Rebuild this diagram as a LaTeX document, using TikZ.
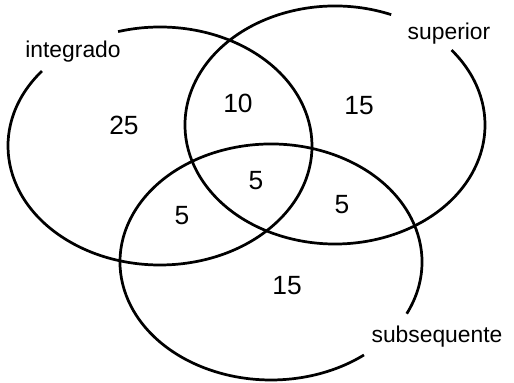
\documentclass[tikz,border=0pt]{standalone}
\usepackage{fontspec}
\setmainfont{Liberation Sans}
\usetikzlibrary{positioning}

\begin{document}
\begin{tikzpicture}[
    venn/.style={line width=1.55pt, black},
    lbl/.style={font=\fontsize{13}{15}\selectfont},
    num/.style={font=\fontsize{15}{18}\selectfont}]
  \useasboundingbox (0,0) rectangle (10.28,7.66);

  % centres of the three sets
  \coordinate (cInt) at (3.2,4.74);
  \coordinate (cSup) at (6.7,5.16);
  \coordinate (cSub) at (5.42,2.42);

  % open ellipses, gap left for the label
  \draw[venn] ([shift={(141:3.04 and 2.38)}]cInt)
    arc[start angle=141, end angle=466, x radius=3.04, y radius=2.38];
  \draw[venn] ([shift={(68:3.0 and 2.38)}]cSup)
    arc[start angle=68, end angle=399, x radius=3.0, y radius=2.38];
  \draw[venn] ([shift={(-26:3.02 and 2.36)}]cSub)
    arc[start angle=-26, end angle=308, x radius=3.02, y radius=2.36];

  \node[lbl] (integrado) at (1.46,6.62) {integrado};
  \node[lbl] (superior) at (8.98,6.98) {superior};
  \node[lbl] (subsequente) at (8.74,0.92) {subsequente};

  \node[num] (nInt) at (2.48,5.16) {25};
  \node[num] (nIntSup) at (4.76,5.6) {10};
  \node[num] (nSup) at (7.18,5.54) {15};
  \node[num] (nAll) at (5.12,4.04) {5};
  \node[num] (nIntSub) at (3.64,3.34) {5};
  \node[num] (nSupSub) at (6.84,3.56) {5};
  \node[num] (nSub) at (5.74,1.94) {15};
\end{tikzpicture}
\end{document}
